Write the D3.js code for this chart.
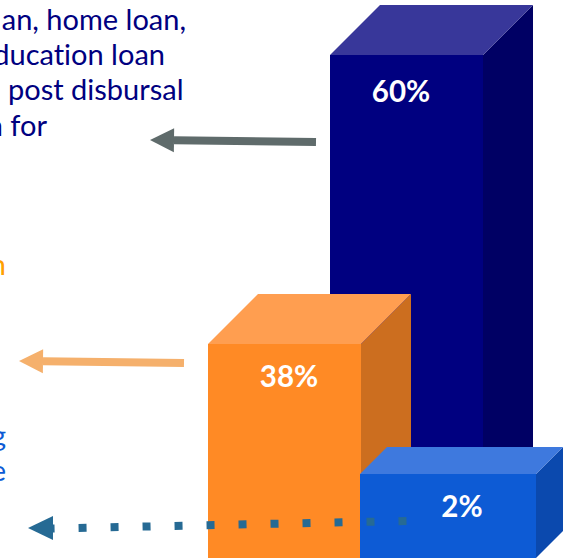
<!DOCTYPE html>
<html>
<head>
<meta charset="utf-8">
<script src="https://cdn.jsdelivr.net/npm/d3@7/dist/d3.min.js"></script>
<style>
html,body{margin:0;padding:0;background:#fff;overflow:hidden}
text{font-family:Lato,"Open Sans",sans-serif;font-variant-ligatures:none}
</style>
</head>
<body>
<svg id="chart" width="571" height="560"></svg>
<script>
// Share of each segment, back to front
const segments = ["Navy", "Orange", "Blue"];
const shares = [60, 38, 2];
const shareLabels = ["60%", "38%", "2%"];
const frontColors = ["#000080", "#ff8a25", "#0d5bd5"];
const topColors = ["#38379a", "#ff9e50", "#3e79de"];
const sideColors = ["#000064", "#cc6e1f", "#0b49ae"];

// Copy beside the bars; lines run off the left edge of the page
const navyLines = ["an, home loan,", "ducation loan", "post disbursal", "n for"];
const orangeLines = ["n"];
const blueLines = ["g", "e"];

const svg = d3.select("#chart");
const base = 558;

// Bar heights follow a stepped value scale
const y = d3.scaleLinear().domain([2, 38, 60]).range([474, 344, 55]);
const xLeft = d3.scaleOrdinal().domain(segments).range([330, 208, 360]);
const barWidth = d3.scaleOrdinal().domain(segments).range([153, 153, 176]);
const depth = d3.scaleOrdinal().domain(segments).range([50, 50, 27]);

const line = d3.line();
const bars = svg.selectAll("g.bar").data(segments).join("g").attr("class", "bar");

bars.each(function (s, i) {
  const g = d3.select(this);
  const x0 = xLeft(s), x1 = x0 + barWidth(s), yt = y(shares[i]);
  const d = depth(s);
  g.append("path")
    .attr("d", line([[x1, yt], [x1 + d, yt - d], [x1 + d, base - d], [x1, base]]) + "Z")
    .attr("fill", sideColors[i]);
  g.append("path")
    .attr("d", line([[x0, yt], [x0 + d, yt - d], [x1 + d, yt - d], [x1, yt]]) + "Z")
    .attr("fill", topColors[i]);
  g.append("rect")
    .attr("x", x0).attr("y", yt)
    .attr("width", barWidth(s)).attr("height", base - yt)
    .attr("fill", frontColors[i]);
  g.append("text")
    .attr("x", [401, 289, 462][i]).attr("y", yt + [47, 43, 43][i])
    .attr("text-anchor", "middle")
    .attr("fill", "#fff").attr("font-size", 29.5).attr("font-weight", 700)
    .text(shareLabels[i]);
});

// Solid arrows pointing from the bars to the copy
function solidArrow(from, to, color) {
  const a = Math.atan2(to[1] - from[1], to[0] - from[0]);
  const head = 24, half = 12;
  const neck = [to[0] - head * Math.cos(a), to[1] - head * Math.sin(a)];
  const nx = -Math.sin(a), ny = Math.cos(a);
  svg.append("path")
    .attr("d", line([from, neck]))
    .attr("stroke", color).attr("stroke-width", 8).attr("fill", "none");
  svg.append("path")
    .attr("d", line([to, [neck[0] + nx * half, neck[1] + ny * half], [neck[0] - nx * half, neck[1] - ny * half]]) + "Z")
    .attr("fill", color);
}
solidArrow([316, 142], [150, 140], "#5f6b6b");
solidArrow([184, 363], [19, 361], "#f5b06c");

// Dotted arrow running across the front of the orange and blue bars
const dotColor = "#266a94";
svg.append("path")
  .attr("d", line([[406.5, 521], [50, 528.5]]))
  .attr("stroke", dotColor).attr("stroke-width", 8).attr("fill", "none")
  .attr("stroke-dasharray", "8 24");
svg.append("path")
  .attr("d", line([[28, 528], [53, 516], [53, 540]]) + "Z")
  .attr("fill", dotColor);

// Copy blocks
const textBlock = (lines, xEnd, ys, color) => svg.selectAll(null).data(lines).join("text")
  .attr("x", (d, i) => xEnd[i]).attr("y", (d, i) => ys[i])
  .attr("text-anchor", "end")
  .attr("font-size", 29).attr("fill", color)
  .text(d => d);

textBlock(navyLines, [186, 165, 183.5, 47], [30, 65, 100, 136], "#000080");
textBlock(orangeLines, [6], [275], "#ffa000");
textBlock(blueLines, [6, 6], [446, 481], "#0d5bd5");
</script>
</body>
</html>
